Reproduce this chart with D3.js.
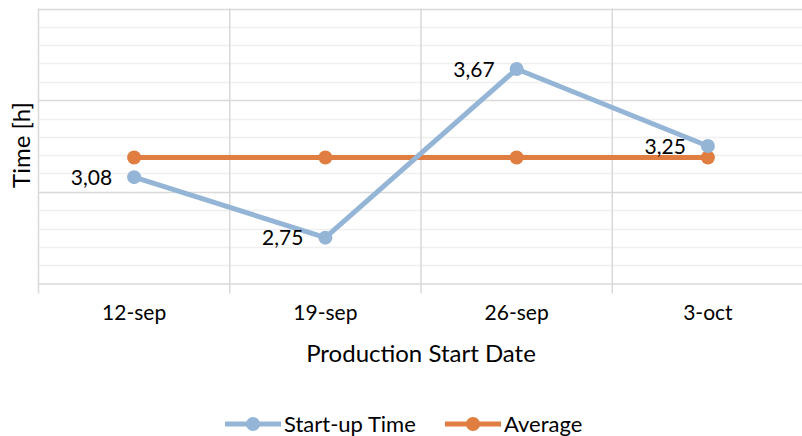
<!DOCTYPE html>
<html>
<head>
<meta charset="utf-8">
<script src="https://cdn.jsdelivr.net/npm/d3@7"></script>
<style>
  html, body { margin: 0; padding: 0; background: #fff; }
  svg { display: block; font-family: Lato, "Open Sans", sans-serif; }
</style>
</head>
<body>
<svg id="chart" width="802" height="436"></svg>
<script>
// Start-up time per production start date
const categories = ["12-sep", "19-sep", "26-sep", "3-oct"];
const startupTime = [3.08, 2.75, 3.67, 3.25];
const valueLabels = ["3,08", "2,75", "3,67", "3,25"];
const average = d3.mean(startupTime);
const averageSeries = categories.map(() => average);
const yMajorTicks = [2.5, 3.0, 3.5, 4.0];
const yMinorTicks = d3.range(26, 40).map(d => d / 10);

const seriesNames = ["Start-up Time", "Average"];
const colors = ["#95b5d6", "#e07d40"];

const svg = d3.select("#chart");
const plotLeft = 38.5, plotRight = 803.5, plotTop = 8.5, plotBottom = 283.5;

const x = d3.scaleBand().domain(categories).range([plotLeft, plotRight]).padding(0);
const y = d3.scaleLinear().domain([2.5, 4.0]).range([plotBottom, plotTop]);
const cx = d => x(d) + x.bandwidth() / 2;

// minor gridlines
svg.append("g").selectAll("line").data(yMinorTicks.filter(v => !yMajorTicks.some(m => Math.abs(m - v) < 1e-9)))
  .join("line")
  .attr("x1", plotLeft).attr("x2", plotRight)
  .attr("y1", d => Math.round(y(d)) + 0.5).attr("y2", d => Math.round(y(d)) + 0.5)
  .attr("stroke", "#efefef").attr("stroke-width", 1.5);

// major gridlines
svg.append("g").selectAll("line").data(yMajorTicks.filter(v => v > 2.5))
  .join("line")
  .attr("x1", plotLeft).attr("x2", plotRight)
  .attr("y1", d => Math.round(y(d)) + 0.5).attr("y2", d => Math.round(y(d)) + 0.5)
  .attr("stroke", "#d9d9d9").attr("stroke-width", 1.5);

// vertical gridlines at category boundaries
svg.append("g").selectAll("line").data(categories)
  .join("line")
  .attr("x1", d => x(d)).attr("x2", d => x(d))
  .attr("y1", plotTop).attr("y2", plotBottom + 10)
  .attr("stroke", "#d9d9d9").attr("stroke-width", 1.5);

// category axis
const xAxis = svg.append("g").attr("transform", `translate(0,${plotBottom})`)
  .call(d3.axisBottom(x).tickSize(0).tickPadding(22));
xAxis.select(".domain").attr("stroke", "#d9d9d9").attr("stroke-width", 1.5);
xAxis.selectAll("text").attr("font-size", 21).attr("fill", "#000").attr("font-family", "Lato, sans-serif");

// axis titles
svg.append("text").attr("x", 421).attr("y", 362)
  .attr("text-anchor", "middle").attr("font-size", 24).attr("fill", "#000")
  .text("Production Start Date");
svg.append("text")
  .attr("transform", `translate(30,145) rotate(-90)`)
  .attr("text-anchor", "middle").attr("font-size", 24).attr("fill", "#000")
  .text("Time [h]");

// series
const series = [startupTime, averageSeries];
const line = d3.line().x((d, i) => cx(categories[i])).y(d => y(d));

[1, 0].forEach(si => {
  const g = svg.append("g");
  g.append("path").datum(series[si])
    .attr("d", line).attr("fill", "none")
    .attr("stroke", colors[si]).attr("stroke-width", 5).attr("stroke-linejoin", "round");
  g.selectAll("circle").data(series[si]).join("circle")
    .attr("cx", (d, i) => cx(categories[i])).attr("cy", d => y(d))
    .attr("r", 7).attr("fill", colors[si]);
});

// data labels for start-up time
svg.append("g").selectAll("text").data(startupTime).join("text")
  .attr("x", (d, i) => cx(categories[i]) - 22)
  .attr("y", d => y(d))
  .attr("dy", "0.36em")
  .attr("text-anchor", "end").attr("font-size", 21).attr("fill", "#000")
  .text((d, i) => valueLabels[i]);

// legend
const legend = svg.append("g").attr("transform", "translate(0,424)");
const legendItems = [{ x: 225, tx: 284 }, { x: 445, tx: 504 }];
legendItems.forEach((it, i) => {
  legend.append("line").attr("x1", it.x).attr("x2", it.x + 56).attr("y1", 0).attr("y2", 0)
    .attr("stroke", colors[i]).attr("stroke-width", 5);
  legend.append("circle").attr("cx", it.x + 28).attr("cy", 0).attr("r", 7).attr("fill", colors[i]);
  legend.append("text").attr("x", it.tx).attr("y", 0).attr("dy", "0.36em")
    .attr("font-size", 22).attr("fill", "#000").text(seriesNames[i]);
});
</script>
</body>
</html>
